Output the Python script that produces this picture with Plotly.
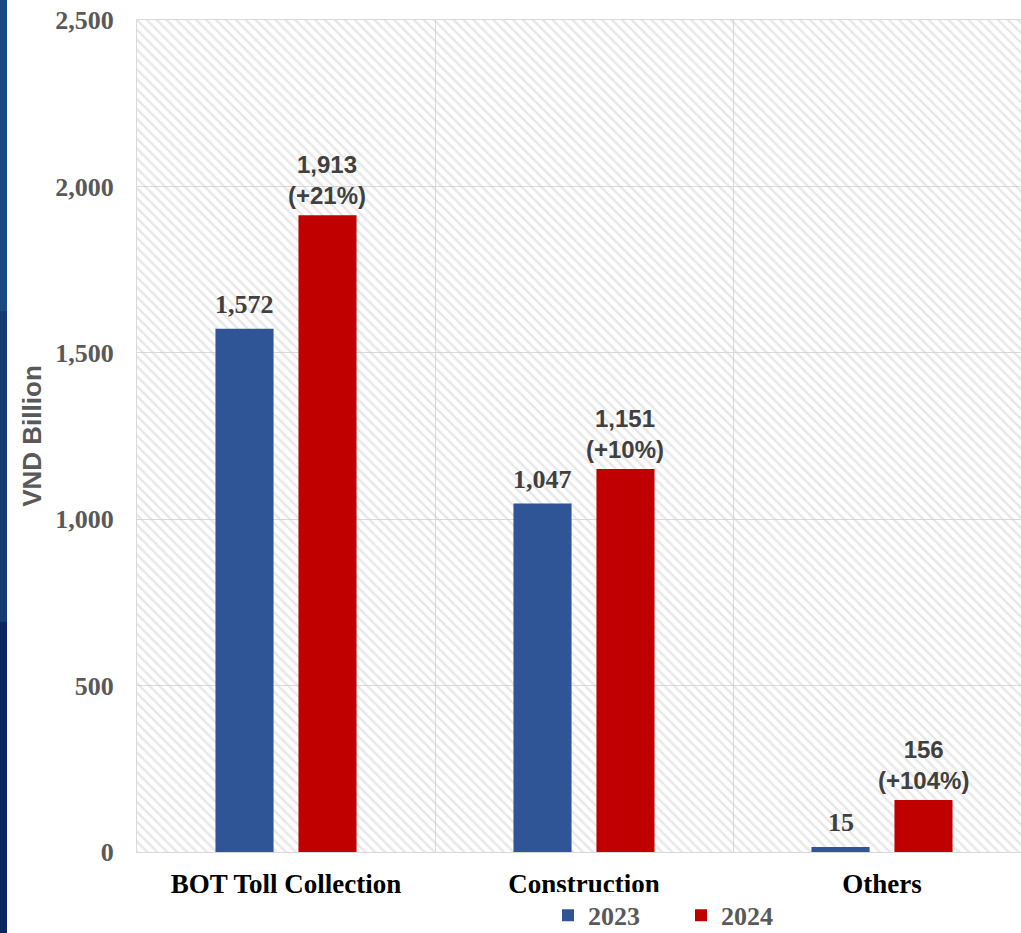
import plotly.graph_objects as go

categories = ["BOT Toll Collection", "Construction", "Others"]
values_2023 = [1572, 1047, 15]
values_2024 = [1913, 1151, 156]
growth_labels = ["+21%", "+10%", "+104%"]
y_ticks = [0, 500, 1000, 1500, 2000, 2500]

BLUE = "#2F5597"
RED = "#C00000"
SERIF = "Liberation Serif, Times New Roman, serif"
SANS = "Liberation Sans, Arial, sans-serif"

W, H = 1021, 933
ML, MR, MT, MB = 137, 0, 20, 81
PW, PH = W - ML - MR, H - MT - MB
cat_px = 298.0
xpos = list(range(len(categories)))
x_lo = -0.5
x_hi = x_lo + PW / cat_px
y_max = 2500

fig = go.Figure()

# hatched plot background (base x axis, drawn below the data bars)
fig.add_trace(go.Bar(
    x=[(x_lo + x_hi) / 2], y=[y_max], width=[x_hi - x_lo], xaxis="x",
    marker=dict(color="rgba(0,0,0,0)", line=dict(width=0),
                pattern=dict(shape="\\", fgcolor="#cfcfcf", bgcolor="rgba(0,0,0,0)",
                             size=7, solidity=0.35)),
    hoverinfo="skip", showlegend=False,
))

fig.add_trace(go.Bar(name="2023", x=xpos, y=values_2023, xaxis="x2",
                     marker=dict(color=BLUE, line=dict(width=0))))
fig.add_trace(go.Bar(name="2024", x=xpos, y=values_2024, xaxis="x2",
                     marker=dict(color=RED, line=dict(width=0))))

slot = cat_px * (1 - 0.443) / 2
for i, (v1, v2, g) in enumerate(zip(values_2023, values_2024, growth_labels)):
    fig.add_annotation(x=xpos[i], y=v1, xref="x2", xshift=-slot / 2, yshift=8, yanchor="bottom",
                       text=f"{v1:,}", showarrow=False,
                       font=dict(family=SERIF, size=26, color="#404040", weight="bold"))
    fig.add_annotation(x=xpos[i], y=v2, xref="x2", xshift=slot / 2, yshift=4, yanchor="bottom",
                       text=f"<b>{v2:,}<br>({g})</b>", showarrow=False,
                       font=dict(family=SANS, size=24, color="#404040"))

# left decorative strip
bands = ["#1b4a80", "#143b72", "#0c2660"]
for k, c in enumerate(bands):
    fig.add_shape(type="rect", xref="paper", yref="paper",
                  x0=-ML / PW, x1=-(ML - 7) / PW,
                  y0=-MB / PH + (1 + (MT + MB) / PH) * (len(bands) - 1 - k) / len(bands),
                  y1=-MB / PH + (1 + (MT + MB) / PH) * (len(bands) - k) / len(bands),
                  fillcolor=c, line=dict(width=0), layer="above")

fig.update_layout(
    width=W, height=H,
    margin=dict(l=ML, r=MR, t=MT, b=MB, autoexpand=False),
    paper_bgcolor="white", plot_bgcolor="white",
    barmode="group", bargap=0.443, bargroupgap=0.30,
    showlegend=True,
    legend=dict(orientation="h", x=(548 - ML) / PW, xanchor="left", y=-0.076, yanchor="middle",
                font=dict(family=SERIF, size=26, color="#595959", weight="bold"),
                traceorder="normal", itemwidth=30, entrywidth=88, tracegroupgap=0),
    xaxis=dict(range=[x_lo, x_hi], tickvals=xpos, ticktext=categories,
               showgrid=False, zeroline=False,
               showline=True, linecolor="#d9d9d9", linewidth=1, mirror=True,
               tickfont=dict(family=SERIF, size=27, color="#000000", weight="bold"),
               minor=dict(tickvals=[0.5, 1.5], showgrid=True, gridcolor="#d9d9d9", gridwidth=1, ticks=""),
               ticks="", ticklabelstandoff=8),
    xaxis2=dict(range=[x_lo, x_hi], overlaying="x", showgrid=False, zeroline=False,
                showticklabels=False, ticks="", showline=False),
    yaxis=dict(range=[0, y_max], tickvals=y_ticks, tickformat=",",
               showgrid=True, gridcolor="#d9d9d9", gridwidth=1, zeroline=False,
               showline=True, linecolor="#d9d9d9", linewidth=1, mirror=True,
               tickfont=dict(family=SERIF, size=26, color="#595959", weight="bold"),
               ticklabelstandoff=17,
               title=dict(text="VND Billion", standoff=6,
                          font=dict(family=SANS, size=26, color="#595959", weight="bold"))),
)

fig.write_html("out.html", config={"displayModeBar": False},
               post_script="document.body.style.margin='0px';")
